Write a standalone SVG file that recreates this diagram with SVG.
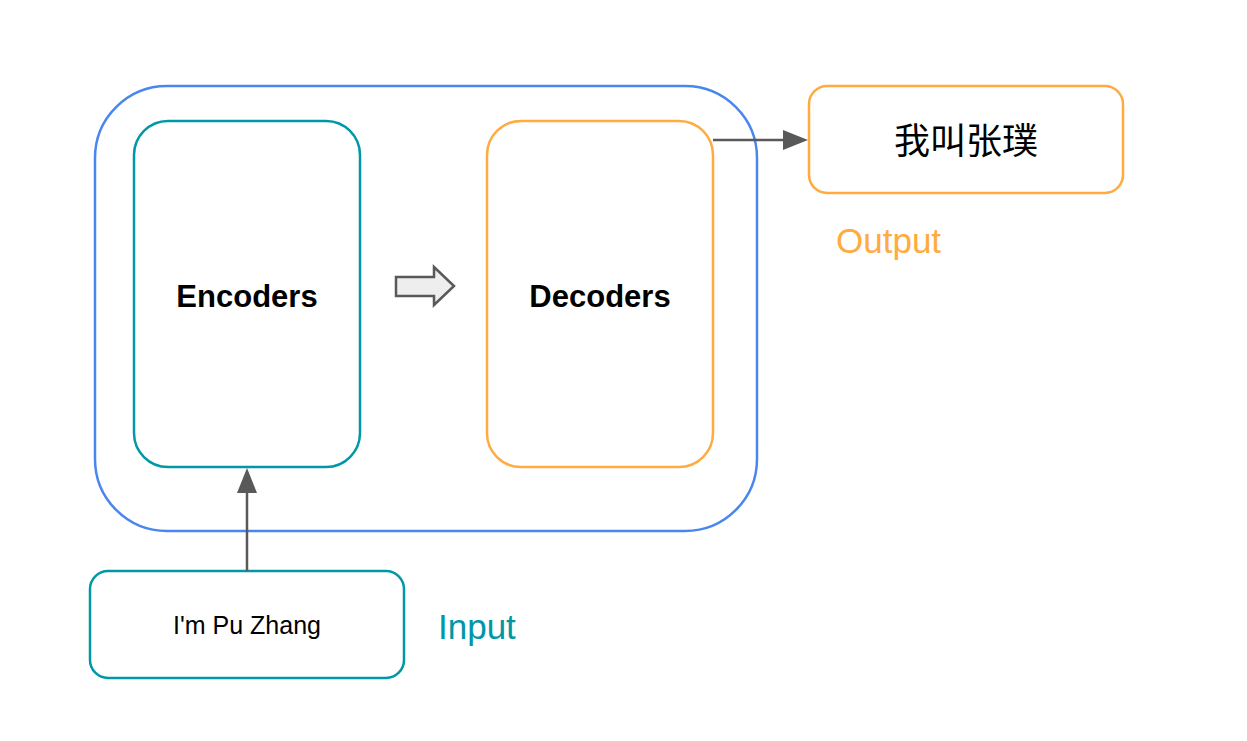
<svg xmlns="http://www.w3.org/2000/svg" width="1247" height="741" viewBox="0 0 1247 741">
<style>
.box{fill:#ffffff;stroke-width:2.5}
.blue{stroke:#4a86f0}
.teal{stroke:#0097a7}
.orange{stroke:#ffab40}
.bold{font-family:"Liberation Sans",Arial,sans-serif;font-weight:bold;font-size:31px;fill:#000;text-anchor:middle}
.lbl{font-family:"Liberation Sans",Arial,sans-serif;font-size:35px}
.conn{stroke:#595959;stroke-width:2.5;fill:none}
.head{fill:#595959}
</style>
<rect width="1247" height="741" fill="#ffffff"/>
<g id="container"><rect class="box blue" x="95" y="86" width="662" height="445" rx="72" ry="72"/></g>
<g id="encoders"><rect class="box teal" x="134" y="121" width="226" height="346" rx="34" ry="34"/>
<text class="bold" x="247" y="307">Encoders</text></g>
<g id="decoders"><rect class="box orange" x="487" y="121" width="226" height="346" rx="34" ry="34"/>
<text class="bold" x="600" y="307">Decoders</text></g>
<g id="output"><rect class="box orange" x="809" y="86" width="314" height="107" rx="18" ry="18"/>
<text x="966" y="154" font-family="'Noto Sans CJK SC',sans-serif" font-size="36" text-anchor="middle" fill="#000">我叫张璞</text></g>
<g id="output-label"><text class="lbl" x="836" y="253" fill="#ffab40">Output</text></g>
<g id="input"><rect class="box teal" x="90" y="571" width="314" height="107" rx="18" ry="18"/>
<text x="247" y="634" font-family="'Liberation Sans',Arial,sans-serif" font-size="25" text-anchor="middle" fill="#000">I'm Pu Zhang</text></g>
<g id="input-label"><text class="lbl" x="438" y="639" fill="#0097a7">Input</text></g>
<g id="transfer"><path d="M396,277 L434,277 L434,267 L454,286 L434,305 L434,296 L396,296 Z" fill="#eeeeee" stroke="#595959" stroke-width="2.5" stroke-linejoin="miter"/></g>
<g id="connectors">
<line class="conn" x1="713" y1="140" x2="790" y2="140"/>
<path class="head" d="M783,130 L808,140 L783,150 Z"/>
<line class="conn" x1="247" y1="571" x2="247" y2="490"/>
<path class="head" d="M237,493 L247,468 L257,493 Z"/>
</g>
</svg>
